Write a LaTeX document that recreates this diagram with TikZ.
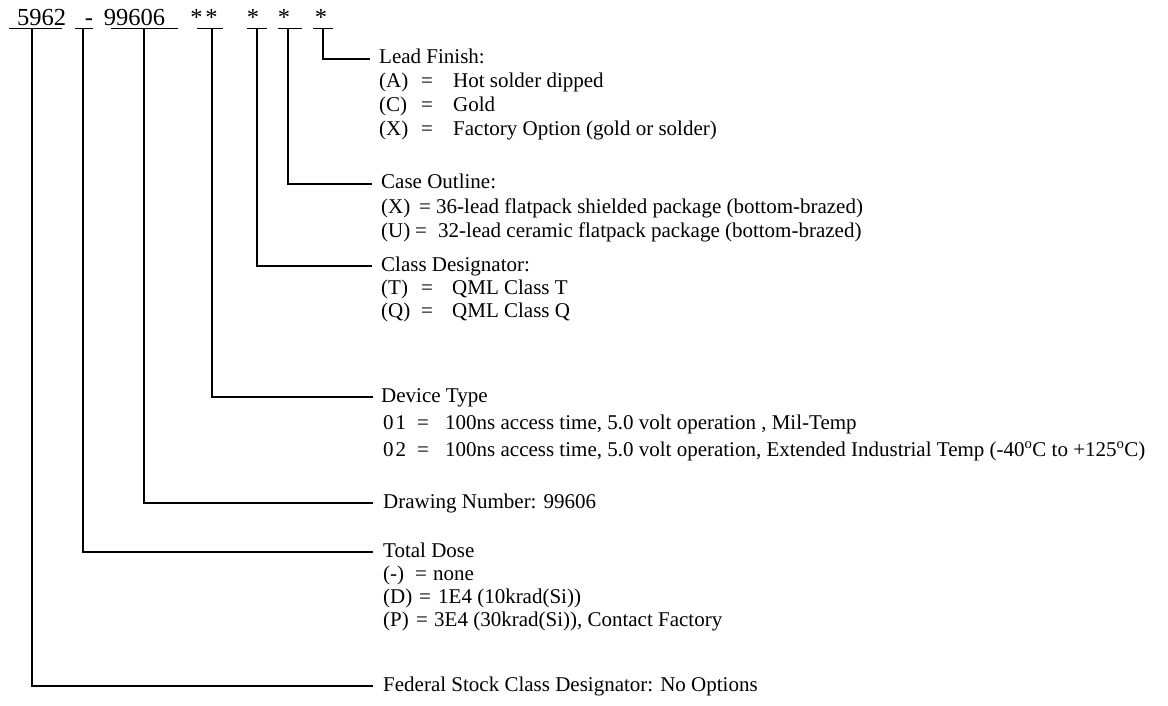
\documentclass[tikz,border=0pt]{standalone}
\usepackage{fontspec}
\setmainfont{Liberation Serif}
\newcommand\optrow[5]{\makebox[#1][l]{#2}\makebox[#3][l]{#4}#5}
\begin{document}
\begin{tikzpicture}[x=1pt,y=-1pt,
  conn/.style={line width=1.9pt},
  txt/.style={anchor=west,inner sep=0pt,font=\fontsize{21}{25}\selectfont,text height=14.5pt,text depth=4.5pt},
  toptxt/.style={anchor=base,inner sep=0pt,font=\fontsize{24.5}{28}\selectfont}]
\useasboundingbox (0,0) rectangle (1168,706);
% part number
\node[toptxt] (p1) at (41.5,26) {5962};
\node[toptxt] (p2) at (89,26) {-};
\node[toptxt] (p3) at (134.5,26) {99606};
\node[toptxt] (p4) at (204,26) {*\kern3pt*};
\node[toptxt] (p5) at (253,26) {*};
\node[toptxt] (p6) at (284,26) {*};
\node[toptxt] (p7) at (321,26) {*};
% underlines
\draw[conn] (9,28.5) -- (62,28.5);
\draw[conn] (75,28.5) -- (93,28.5);
\draw[conn] (111,28.5) -- (178,28.5);
\draw[conn] (197,28.5) -- (223,28.5);
\draw[conn] (247,28.5) -- (267,28.5);
\draw[conn] (278,28.5) -- (302,28.5);
\draw[conn] (313,28.5) -- (333,28.5);
\coordinate (v1) at (32,28.5);
\coordinate (v2) at (83,28.5);
\coordinate (v3) at (144,28.5);
\coordinate (v4) at (212,28.5);
\coordinate (v5) at (257,28.5);
\coordinate (v6) at (288,28.5);
\coordinate (v7) at (323,28.5);
% Lead finish
\node[txt] (lf) at (379,59) {Lead Finish:};
\node[txt] (lfa) at (379,83) {\optrow{42pt}{(A)}{32pt}{=}{Hot solder dipped}};
\node[txt] (lfc) at (379,107) {\optrow{42pt}{(C)}{32pt}{=}{Gold}};
\node[txt] (lfx) at (379,131) {\optrow{42pt}{(X)}{32pt}{=}{Factory Option (gold or solder)}};
% Case outline
\node[txt] (co) at (381,184) {Case Outline:};
\node[txt] (cox) at (381,208) {\optrow{38pt}{(X)}{17pt}{=}{36-lead flatpack shielded package (bottom-brazed)}};
\node[txt] (cou) at (381,232) {\optrow{34pt}{(U)}{23pt}{=}{32-lead ceramic flatpack package (bottom-brazed)}};
% Class designator
\node[txt] (cd) at (381,266) {Class Designator:};
\node[txt] (cdt) at (381,289) {\optrow{40pt}{(T)}{31pt}{=}{QML Class T}};
\node[txt] (cdq) at (381,312) {\optrow{40pt}{(Q)}{31pt}{=}{QML Class Q}};
% Device type
\node[txt] (dt) at (381,397) {Device Type};
\node[txt] (dt1) at (383,424) {\optrow{34pt}{0\kern2pt1}{28pt}{=}{100ns access time, 5.0 volt operation , Mil-Temp}};
\node[txt] (dt2) at (383,451) {\optrow{34pt}{0\kern2pt2}{28pt}{=}{100ns access time, 5.0 volt operation, Extended Industrial Temp (-40\textsuperscript{o}C to +125\textsuperscript{o}C)}};
% Drawing number
\node[txt] (dn) at (383,503) {Drawing Number: 99606};
% Total dose
\node[txt] (td) at (383,552) {Total Dose};
\node[txt] (tdn) at (383,575) {\optrow{32pt}{(-)}{18pt}{=}{none}};
\node[txt] (tdd) at (383,598) {\optrow{36pt}{(D)}{19pt}{=}{1E4 (10krad(Si))}};
\node[txt] (tdp) at (383,621) {\optrow{33pt}{(P)}{18pt}{=}{3E4 (30krad(Si)), Contact Factory}};
% Federal
\node[txt] (fs) at (383,686) {Federal Stock Class Designator: No Options};
% connectors
\draw[conn] (v7) |- ([xshift=-9pt]lf.west);
\draw[conn] (v6) |- ([xshift=-9pt]co.west);
\draw[conn] (v5) |- ([xshift=-9pt]cd.west);
\draw[conn] (v4) |- ([xshift=-8pt]dt.west);
\draw[conn] (v3) |- ([xshift=-10pt]dn.west);
\draw[conn] (v2) |- ([xshift=-10pt]td.west);
\draw[conn] (v1) |- ([xshift=-10pt]fs.west);
\end{tikzpicture}
\end{document}
